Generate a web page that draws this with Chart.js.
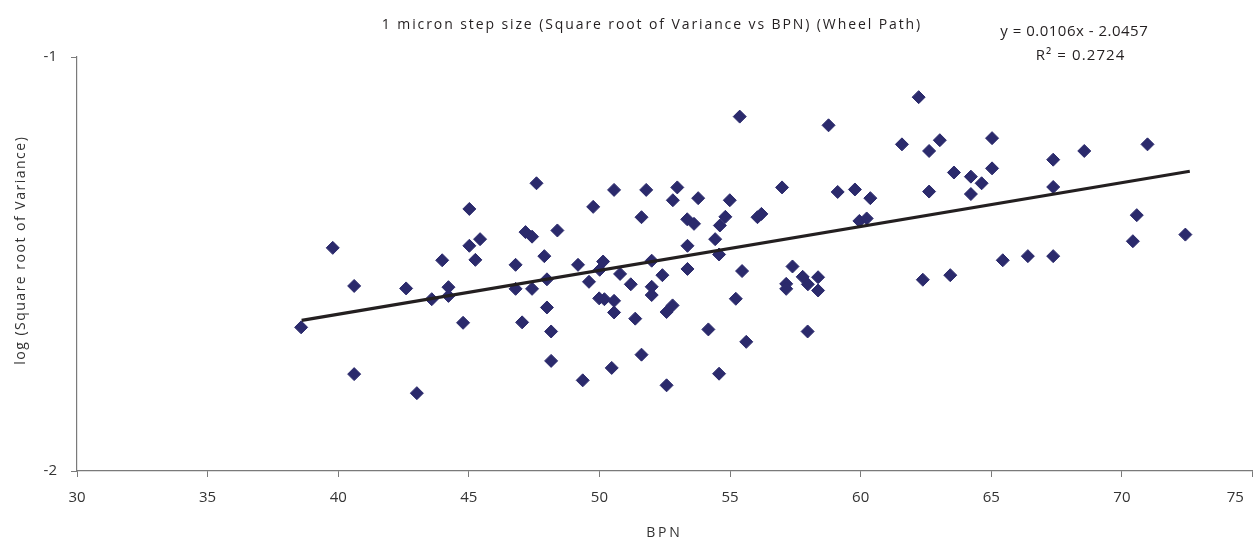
<!DOCTYPE html>
<html><head><meta charset="utf-8">
<script src="https://cdn.jsdelivr.net/npm/chart.js@4.4.1/dist/chart.umd.min.js"></script>
<style>html,body{margin:0;padding:0;background:#fff;}#wrap{width:1260px;height:542px;position:relative;}</style>
</head><body><div id="wrap"><canvas id="c" width="1260" height="542"></canvas></div>
<script>
const bpn = [38.58,39.79,40.61,40.61,42.60,43.01,43.58,43.98,44.22,44.22,44.78,45.02,45.02,45.25,45.43,46.79,46.79,47.04,47.17,47.42,47.42,47.59,47.89,47.99,47.99,48.15,48.15,48.39,49.18,49.36,49.60,49.76,49.99,50.01,50.14,50.19,50.47,50.56,50.56,50.56,50.79,51.20,51.37,51.61,51.61,51.79,52.00,52.00,52.00,52.41,52.57,52.57,52.80,52.81,52.98,53.36,53.37,53.37,53.62,53.78,54.17,54.43,54.58,54.58,54.61,54.82,54.99,55.22,55.37,55.46,55.62,56.05,56.20,56.99,57.15,57.15,57.39,57.78,57.97,57.98,58.37,58.37,58.77,59.12,59.78,59.95,60.23,60.37,61.58,62.22,62.38,62.62,62.62,63.03,63.43,63.57,64.22,64.22,64.63,65.03,65.03,65.44,66.40,67.37,67.37,67.37,68.56,70.42,70.57,70.98,72.43];
const logSqrtVariance = [-1.653,-1.461,-1.553,-1.766,-1.559,-1.812,-1.585,-1.491,-1.556,-1.577,-1.642,-1.367,-1.456,-1.490,-1.440,-1.502,-1.560,-1.641,-1.423,-1.434,-1.560,-1.305,-1.481,-1.537,-1.605,-1.663,-1.734,-1.419,-1.502,-1.781,-1.543,-1.362,-1.583,-1.514,-1.494,-1.585,-1.751,-1.321,-1.589,-1.617,-1.524,-1.549,-1.632,-1.387,-1.719,-1.321,-1.492,-1.555,-1.575,-1.527,-1.616,-1.793,-1.600,-1.346,-1.315,-1.392,-1.456,-1.512,-1.403,-1.341,-1.658,-1.440,-1.477,-1.765,-1.407,-1.386,-1.346,-1.584,-1.144,-1.517,-1.688,-1.387,-1.379,-1.315,-1.548,-1.560,-1.506,-1.531,-1.663,-1.549,-1.532,-1.564,-1.165,-1.326,-1.320,-1.396,-1.390,-1.341,-1.211,-1.097,-1.538,-1.227,-1.325,-1.201,-1.527,-1.279,-1.289,-1.331,-1.305,-1.196,-1.269,-1.491,-1.481,-1.248,-1.314,-1.481,-1.227,-1.445,-1.382,-1.211,-1.429];
const trendX = [38.6, 72.6];
const trendY = [-1.636, -1.276];
const xTickValues = [30,35,40,45,50,55,60,65,70,75];
const yTickValues = [-2,-1];
const chartTitle = '1 micron step size (Square root of Variance vs BPN) (Wheel Path)';
const xTitle = 'BPN';
const yTitle = 'log (Square root of Variance)';
const equationLines = ['y = 0.0106x - 2.0457', 'R\u00b2 = 0.2724'];

const FONT = '"Open Sans", "Noto Sans", sans-serif';

function spacedText(ctx, text, x, y, spacing) {
  if ('letterSpacing' in ctx) {
    ctx.letterSpacing = spacing + 'px';
    const w = ctx.measureText(text).width;
    ctx.textAlign = 'left';
    ctx.fillText(text, x - (w - spacing) / 2, y);
    ctx.letterSpacing = '0px';
  } else {
    ctx.textAlign = 'center';
    ctx.fillText(text, x, y);
  }
}

const textPlugin = {
  id: 'texts',
  afterDraw(chart) {
    const ctx = chart.ctx;
    ctx.save();
    ctx.textBaseline = 'middle';
    ctx.fillStyle = '#231f20';
    ctx.font = '14px ' + FONT;
    spacedText(ctx, chartTitle, 651, 25, 1.9);
    ctx.font = '15px ' + FONT;
    spacedText(ctx, equationLines[0], 1074, 32, 0.5);
    spacedText(ctx, equationLines[1], 1080, 56, 1.1);
    ctx.fillStyle = '#333';
    ctx.font = '14px ' + FONT;
    spacedText(ctx, xTitle, 663, 533, 2.7);
    ctx.translate(21, 251);
    ctx.rotate(-Math.PI / 2);
    spacedText(ctx, yTitle, 0, 0, 1.5);
    ctx.restore();
  }
};

const pts = bpn.map((x, i) => ({x, y: logSqrtVariance[i]}));
const trend = trendX.map((x, i) => ({x, y: trendY[i]}));

new Chart(document.getElementById('c'), {
  type: 'scatter',
  data: {
    datasets: [
      {data: pts, pointStyle: 'rectRot', pointRadius: 6.5, pointHoverRadius: 6.5,
       backgroundColor: '#2b2a6c', borderColor: '#2b2a6c', borderWidth: 1, order: 2},
      {type: 'line', data: trend, borderColor: '#231f20', borderWidth: 3.2,
       pointRadius: 0, fill: false, order: 1}
    ]
  },
  options: {
    responsive: false,
    animation: false,
    events: [],
    layout: {padding: {top: 57, left: 0, right: -3, bottom: 0}},
    plugins: {
      legend: {display: false},
      tooltip: {enabled: false},
      title: {display: false}
    },
    scales: {
      x: {
        type: 'linear', min: 30, max: 75,
        afterBuildTicks: s => { s.ticks = xTickValues.map(v => ({value: v})); },
        afterFit: s => { s.height = 71; s.paddingRight = 0; },
        grid: {display: true, drawOnChartArea: false, drawTicks: true, tickLength: 6, color: '#7a7a7a', lineWidth: 1},
        border: {display: true, color: '#7a7a7a', width: 1.2},
        ticks: {color: '#333', font: {family: FONT, size: 15}, padding: 12, maxRotation: 0,
          callback: v => v === 75 ? '75\u2007\u2007\u2007\u2007' : String(v)}
      },
      y: {
        type: 'linear', min: -2, max: -1,
        afterBuildTicks: s => { s.ticks = yTickValues.map(v => ({value: v})); },
        afterFit: s => { s.width = 77; },
        grid: {display: true, drawOnChartArea: false, drawTicks: true, tickLength: 6, color: '#7a7a7a', lineWidth: 1},
        border: {display: true, color: '#7a7a7a', width: 1.2},
        ticks: {color: '#333', font: {family: FONT, size: 15}, padding: 14}
      }
    }
  },
  plugins: [textPlugin]
});
</script></body></html>
